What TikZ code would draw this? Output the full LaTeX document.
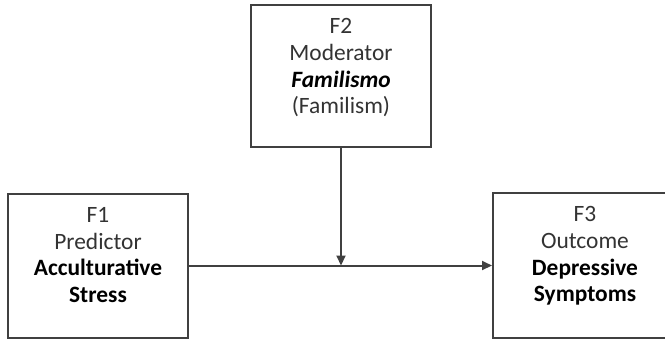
\documentclass[tikz,border=0pt]{standalone}
\usepackage{fontspec}
\setmainfont{Carlito}
\usetikzlibrary{arrows.meta}
\tikzset{
	factor/.style={draw=black!75,line width=2pt,fill=white,inner sep=0pt},
	factortext/.style={anchor=north,align=center,inner sep=0pt,text=black!80,
		font=\fontsize{23.5}{26.7}\selectfont}
}
\begin{document}
\begin{tikzpicture}
	[
		line cap=butt,
		line join=miter,
		>={Triangle[length=10bp,width=9bp]},
		x=1bp,
		y=-1bp
	]
		\useasboundingbox (0,0) rectangle (665,340);
		\node [factor,minimum width=180bp,minimum height=144bp] (f1) at (98,266) {};
		\node [factor,minimum width=180bp,minimum height=142bp] (f2) at (341,76) {};
		\node [factor,minimum width=184bp,minimum height=145bp] (f3) at (585,265.5) {};
		\node [factortext] (f1text) at ([yshift=-14.5bp]f1.north) {F1\\Predictor\\\textbf{\color{black}Acculturative}\\\textbf{\color{black}Stress}};
		\node [factortext] (f2text) at ([yshift=-14.5bp]f2.north) {F2\\Moderator\\\textbf{\textit{\color{black}Familismo}}\\(Familism)};
		\node [factortext] (f3text) at ([yshift=-14.5bp]f3.north) {F3\\Outcome\\\textbf{\color{black}Depressive}\\\textbf{\color{black}Symptoms}};
		\coordinate (joint) at (f2.south |- f3.west);
		\draw [->,line width=2pt,color=black!75] (f1.east |- f3.west) -- (f3.west);
		\draw [->,line width=2pt,color=black!75] (f2.south) -- (joint);
	\end{tikzpicture}
\end{document}
